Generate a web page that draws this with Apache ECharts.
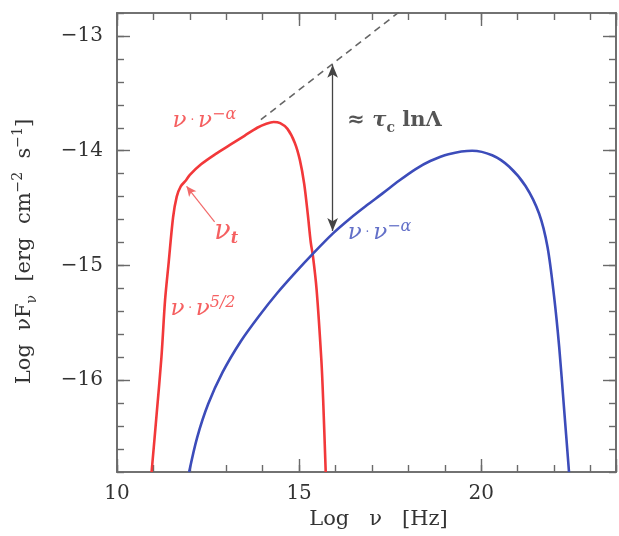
<!DOCTYPE html>
<html>
<head>
<meta charset="utf-8">
<script src="https://cdn.jsdelivr.net/npm/echarts@6/dist/echarts.min.js"></script>
<style>
  html, body { margin: 0; padding: 0; background: #fff; }
  #chart { width: 619px; height: 536px; }
</style>
</head>
<body>
<div id="chart"></div>
<script>
// Spectral energy distribution: log νFν against log ν.
// Red: self-absorbed thermal spectrum; blue: the Comptonized spectrum.
const thermalSpectrum = [
  [10.95, -16.80], [11.09, -16.29], [11.22, -15.80], [11.32, -15.30],
  [11.42, -14.97], [11.54, -14.58], [11.64, -14.40], [11.75, -14.31],
  [11.89, -14.26], [12.00, -14.21], [12.30, -14.12], [12.70, -14.03],
  [13.10, -13.95], [13.50, -13.87], [13.85, -13.80], [14.10, -13.765],
  [14.30, -13.75], [14.48, -13.76], [14.68, -13.81], [14.88, -13.93],
  [15.02, -14.08], [15.14, -14.29], [15.24, -14.56], [15.32, -14.80],
  [15.38, -14.92], [15.48, -15.21], [15.61, -15.82], [15.66, -16.17],
  [15.73, -16.80]
];
const comptonSpectrum = [
  [11.98, -16.80], [12.20, -16.50], [12.50, -16.21], [12.90, -15.93],
  [13.40, -15.66], [13.90, -15.44], [14.40, -15.24], [14.90, -15.06],
  [15.40, -14.89], [15.93, -14.72], [16.40, -14.59], [16.84, -14.48],
  [17.30, -14.37], [17.75, -14.26], [18.20, -14.16], [18.60, -14.09],
  [19.10, -14.03], [19.75, -14.00], [20.30, -14.04], [20.77, -14.14],
  [21.22, -14.31], [21.59, -14.55], [21.82, -14.84], [22.00, -15.27],
  [22.14, -15.71], [22.27, -16.23], [22.41, -16.80]
];
// Unabsorbed power-law continuation beyond the thermal peak
const powerLawExtension = [[13.95, -13.73], [17.75, -12.79]];
// Double arrow marking the drop between the extension and the blue curve
const gapArrowX = 15.92;
const gapArrowTop = -13.25;
const gapArrowBottom = -14.70;
// Pointer from the ν_t label to the turnover frequency
const turnoverPointerFrom = [12.68, -14.62];
const turnoverPointerTo = [11.91, -14.31];

const xRange = [10, 23.7];
const yRange = [-16.8, -12.8];
const xMajorStep = 5;
const xMinorStep = 1;
const yMajorTicks = [-16, -15, -14, -13];
const yMinorStep = 0.2;

// Text annotations placed in data coordinates
const notes = [
  { at: [12.40, -13.74], text: '{ri|ν}{rd| · }{ri|ν}{rs|−α}' },
  { at: [13.00, -14.71], text: '{rbig|ν}{rsub|t}' },
  { at: [12.36, -15.38], text: '{ri|ν}{rd| · }{ri|ν}{rs|5/2}' },
  { at: [17.21, -14.72], text: '{bi|ν}{bd| · }{bi|ν}{bs|−α}' },
  { at: [17.62, -13.74], text: '{k|≈ }{ki|τ}{ksub|c}{k| lnΛ}' }
];

const RED = '#f2383a';
const BLUE = '#3c4cba';
const AXIS = '#6a6a6a';
const INK = '#333';
const SERIF = 'DejaVu Serif';

function lineAxisStyle() {
  return { show: true, onZero: false, lineStyle: { color: AXIS, width: 1.6 } };
}

function xAxisDef(position, step, len, withLabels) {
  const ax = {
    type: 'value', position: position, min: xRange[0], max: xRange[1],
    interval: step,
    axisLine: lineAxisStyle(),
    axisTick: { show: true, inside: true, length: len, lineStyle: { color: AXIS, width: 1.4 } },
    axisLabel: {
      show: withLabels, color: INK, fontFamily: SERIF, fontSize: 20, margin: 12,
      formatter: v => (Math.abs(v % xMajorStep) < 1e-6 ? String(v) : '')
    },
    splitLine: { show: false }
  };
  if (withLabels) {
    ax.name = 'Log   ν   [Hz]';
    ax.nameLocation = 'middle';
    ax.nameGap = 24;
    ax.nameTextStyle = { color: INK, fontFamily: SERIF, fontSize: 21, padding: [0, 0, 0, 24] };
  }
  return ax;
}

function yMinorAxisDef(position) {
  return {
    type: 'value', position: position, min: yRange[0], max: yRange[1],
    interval: yMinorStep,
    axisLine: lineAxisStyle(),
    axisTick: { show: true, inside: true, length: 7, lineStyle: { color: AXIS, width: 1.4 } },
    axisLabel: { show: false },
    splitLine: { show: false }
  };
}

function yMajorAxisDef(position, withLabels) {
  const ax = {
    type: 'value', position: position, min: yRange[0], max: yRange[1],
    axisLine: lineAxisStyle(),
    axisTick: { show: true, inside: true, length: 13, customValues: yMajorTicks,
                lineStyle: { color: AXIS, width: 1.4 } },
    axisLabel: {
      show: withLabels, customValues: yMajorTicks, color: INK,
      fontFamily: SERIF, fontSize: 20, margin: 14,
      formatter: v => '−' + Math.abs(v)
    },
    splitLine: { show: false }
  };
  if (withLabels) {
    ax.name = '{a|Log  νF}{s|ν}{a|  [erg  cm}{p|−2}{a|  s}{p|−1}{a|]}';
    ax.nameLocation = 'middle';
    ax.nameGap = 78;
    ax.nameTextStyle = {
      color: INK, fontFamily: SERIF, padding: [0, 18, 0, 0],
      rich: {
        a: { fontFamily: SERIF, fontSize: 21, color: INK, lineHeight: 28, verticalAlign: 'middle' },
        s: { fontFamily: SERIF, fontSize: 14, color: INK, lineHeight: 12, verticalAlign: 'bottom' },
        p: { fontFamily: SERIF, fontSize: 14, color: INK, lineHeight: 12, verticalAlign: 'top' }
      }
    };
  }
  return ax;
}

function richSet(color, size, italic, bold, lineHeight, vAlign) {
  return {
    fontFamily: SERIF, fontSize: size, color: color,
    fontStyle: italic ? 'italic' : 'normal', fontWeight: bold ? 'bold' : 'normal',
    lineHeight: lineHeight, verticalAlign: vAlign
  };
}

const noteRich = {
  ri: richSet(RED, 23, true, false, 28, 'middle'),
  rd: richSet(RED, 12, false, false, 28, 'middle'),
  rs: richSet(RED, 16, true, false, 13, 'top'),
  rbig: richSet(RED, 27, true, false, 30, 'middle'),
  rsub: richSet(RED, 16, true, true, 13, 'bottom'),
  bi: richSet(BLUE, 23, true, false, 28, 'middle'),
  bd: richSet(BLUE, 12, false, false, 28, 'middle'),
  bs: richSet(BLUE, 16, true, false, 13, 'top'),
  k: richSet('#2a2a2a', 21, false, true, 28, 'middle'),
  ki: richSet('#2a2a2a', 21, true, true, 28, 'middle'),
  ksub: richSet('#2a2a2a', 14, false, true, 12, 'bottom')
};

const chart = echarts.init(document.getElementById('chart'), null, { renderer: 'canvas' });

chart.setOption({
  animation: false,
  backgroundColor: '#fff',
  grid: { left: 117, right: 2, top: 13, bottom: 64, containLabel: false },
  xAxis: [
    xAxisDef('bottom', xMinorStep, 7, false),
    xAxisDef('bottom', xMajorStep, 13, true),
    xAxisDef('top', xMinorStep, 7, false),
    xAxisDef('top', xMajorStep, 13, false)
  ],
  yAxis: [
    yMinorAxisDef('left'),
    yMajorAxisDef('left', true),
    yMinorAxisDef('right'),
    yMajorAxisDef('right', false)
  ],
  series: [
    {
      name: 'power-law extension', type: 'line', data: powerLawExtension,
      xAxisIndex: 0, yAxisIndex: 0, symbol: 'none', silent: true,
      lineStyle: { color: '#666', width: 1.6, type: [7, 5] },
      markLine: {
        silent: true, symbol: ['arrow', 'arrow'], symbolSize: [8, 13], precision: 4,
        label: { show: false },
        lineStyle: { color: '#444', width: 1.3, type: 'solid' },
        data: [[{ coord: [gapArrowX, gapArrowTop] }, { coord: [gapArrowX, gapArrowBottom] }]]
      }
    },
    {
      name: 'thermal', type: 'line', data: thermalSpectrum,
      xAxisIndex: 0, yAxisIndex: 0, symbol: 'none', smooth: 0.3, silent: true,
      lineStyle: { color: RED, width: 2.6 },
      markLine: {
        silent: true, symbol: ['none', 'arrow'], symbolSize: [7, 10], precision: 4,
        label: { show: false },
        lineStyle: { color: '#f26a6a', width: 1.2, type: 'solid' },
        data: [[{ coord: turnoverPointerFrom }, { coord: turnoverPointerTo }]]
      }
    },
    {
      name: 'comptonized', type: 'line', data: comptonSpectrum,
      xAxisIndex: 0, yAxisIndex: 0, symbol: 'none', smooth: 0.3, silent: true,
      lineStyle: { color: BLUE, width: 2.6 }
    },
    {
      name: 'notes', type: 'scatter', xAxisIndex: 0, yAxisIndex: 0,
      symbolSize: 0, silent: true,
      data: notes.map(n => ({ value: n.at, text: n.text })),
      label: {
        show: true, position: 'inside', align: 'center', verticalAlign: 'middle',
        formatter: p => p.data.text, rich: noteRich
      }
    }
  ]
});
</script>
</body>
</html>
